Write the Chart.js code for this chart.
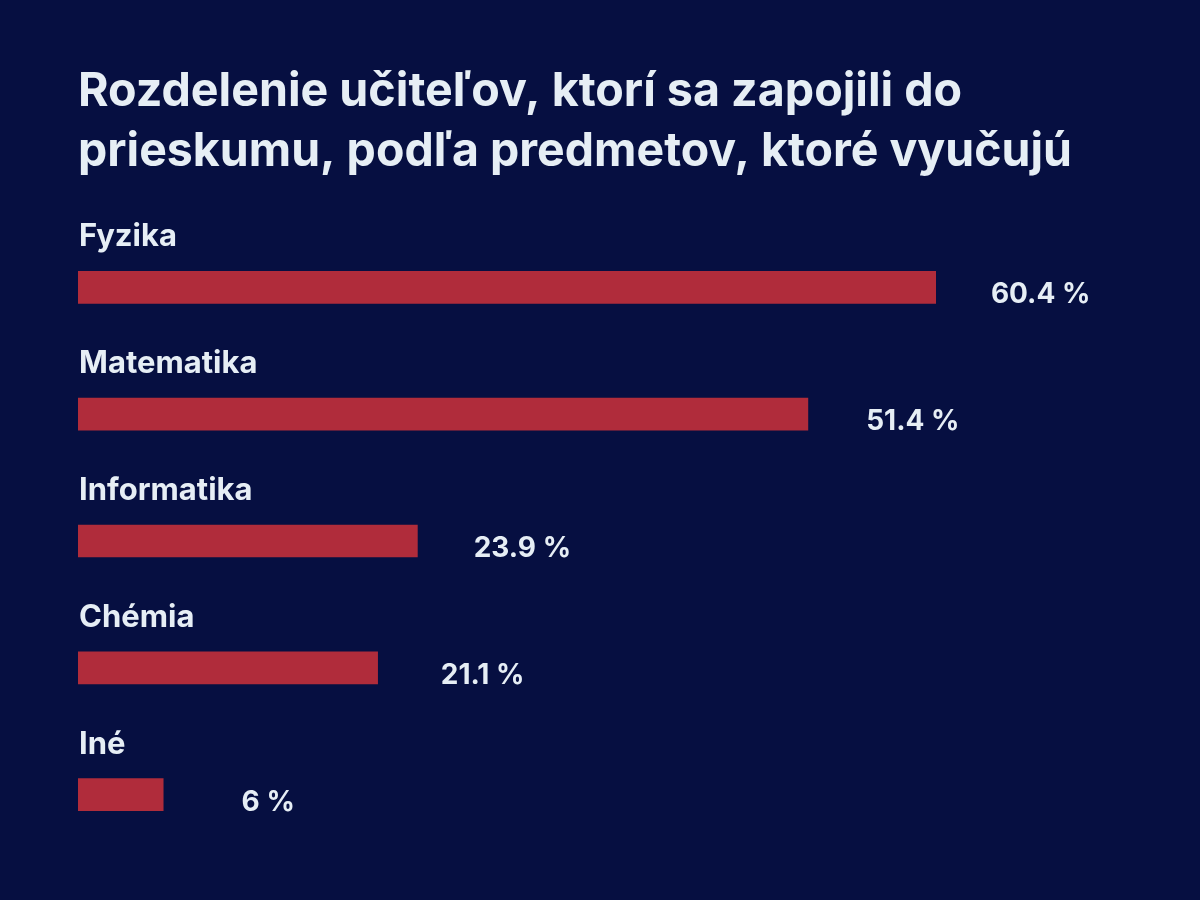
<!DOCTYPE html>
<html>
<head>
<meta charset="utf-8">
<script src="https://cdn.jsdelivr.net/npm/chart.js@4.4.1/dist/chart.umd.min.js"></script>
<style>
  html, body { margin: 0; padding: 0; background: #060f41; }
  #wrap { width: 1200px; height: 900px; }
</style>
</head>
<body>
<div id="wrap"><canvas id="chart" width="1200" height="900"></canvas></div>
<script>
const titleLines = [
  'Rozdelenie učiteľov, ktorí sa zapojili do',
  'prieskumu, podľa predmetov, ktoré vyučujú'
];
const categories = ['Fyzika', 'Matematika', 'Informatika', 'Chémia', 'Iné'];
const shares = [60.4, 51.4, 23.9, 21.1, 6];
const valueLabels = ['60.4 %', '51.4 %', '23.9 %', '21.1 %', '6 %'];

const bg = '#060f41';
const barColor = '#b02c3b';
const textColor = '#e6eef5';
const fontName = 'Inter, Lato, sans-serif';

// subject name above each bar, percentage to the right of it
const barText = {
  id: 'barText',
  afterDatasetsDraw(chart) {
    const ctx = chart.ctx;
    const meta = chart.getDatasetMeta(0);
    ctx.save();
    ctx.fillStyle = textColor;
    ctx.textBaseline = 'alphabetic';
    meta.data.forEach((bar, i) => {
      const top = bar.y - bar.height / 2;
      const bottom = bar.y + bar.height / 2;
      ctx.font = 'bold 31px ' + fontName;
      ctx.textAlign = 'left';
      ctx.fillText(categories[i], chart.chartArea.left + 1, top - 25);
      ctx.font = 'bold 28px ' + fontName;
      ctx.textAlign = 'center';
      ctx.fillText(valueLabels[i], bar.x + 105, bottom);
    });
    ctx.restore();
  }
};

new Chart(document.getElementById('chart'), {
  type: 'bar',
  data: {
    labels: categories,
    datasets: [{
      data: shares,
      backgroundColor: barColor,
      borderWidth: 0,
      barThickness: 32
    }]
  },
  options: {
    indexAxis: 'y',
    responsive: false,
    animation: false,
    layout: { padding: { left: 78, right: 128, top: 62, bottom: 42 } },
    scales: {
      x: { min: 0, max: 70, display: false },
      y: { display: false }
    },
    plugins: {
      legend: { display: false },
      tooltip: { enabled: false },
      title: {
        display: true,
        text: titleLines,
        align: 'start',
        color: textColor,
        font: { family: fontName, size: 46.6, weight: 'bold', lineHeight: 60 / 46.6 },
        padding: { top: 0, bottom: 42 }
      }
    }
  },
  plugins: [barText]
});
</script>
</body>
</html>
